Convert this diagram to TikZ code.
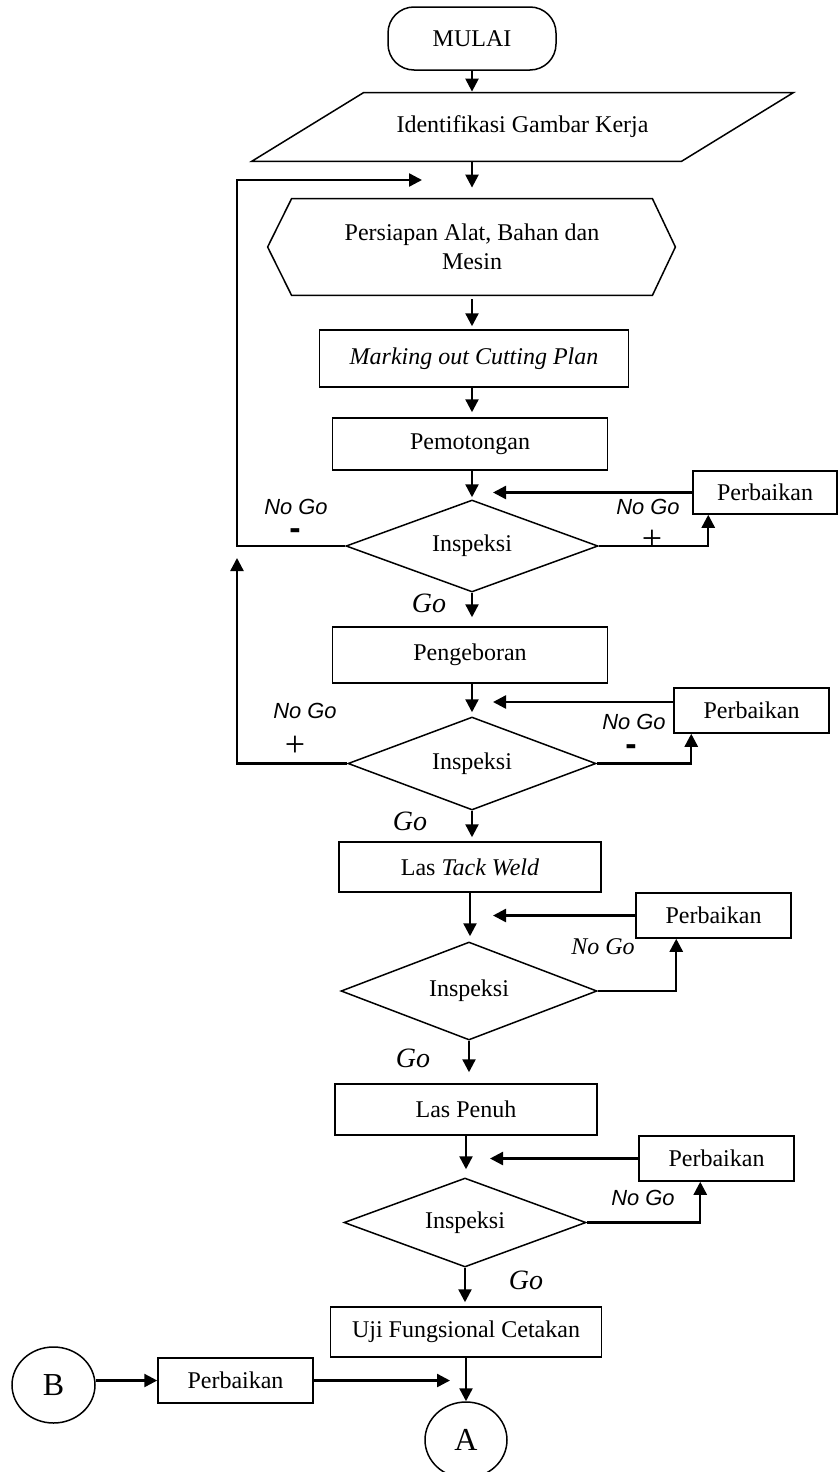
\documentclass[tikz,border=0pt,12pt]{standalone}
\usepackage{fontspec}
\setmainfont{Liberation Serif}
\newfontfamily\nogofont{Liberation Sans}
\usetikzlibrary{shapes.geometric,arrows.meta}

\begin{document}
\begin{tikzpicture}[x=0.5pt,y=-0.5pt,
  box/.style={draw,line width=0.75pt,inner sep=0pt},
  cond/.style={draw,diamond,aspect=2.5,line width=0.75pt,inner sep=0pt},
  flow/.style={line width=1.2pt,-{Triangle[length=6.5pt,width=6.5pt]}},
  nogo/.style={font=\nogofont\itshape\small,inner sep=0pt},
  sign/.style={font=\nogofont\bfseries\fontsize{17}{17}\selectfont,inner sep=0pt},
  go/.style={font=\itshape\fontsize{14}{16}\selectfont}]
\useasboundingbox (0,0) rectangle (838,1472);

\node[box,rounded corners=13pt,minimum width=84pt,minimum height=31.5pt] (mulai) at (472,38.5) {MULAI};
\node[inner sep=0pt,minimum width=214.5pt,minimum height=34pt] (ident) at (522.5,127) {Identifikasi Gambar Kerja};
\draw[line width=0.75pt] ([xshift=-28pt]ident.south west) -- ([xshift=28pt]ident.north west) -- ([xshift=28pt]ident.north east) -- ([xshift=-28pt]ident.south east) -- cycle;
\node[inner sep=0pt,minimum width=180pt,minimum height=48pt,align=center] (siap) at (472,247) {Persiapan Alat, Bahan dan\\Mesin};
\draw[line width=0.75pt] (siap.north west) -- (siap.north east) -- ([xshift=11.5pt]siap.east) -- (siap.south east) -- (siap.south west) -- ([xshift=-12pt]siap.west) -- cycle;
\node[box,minimum width=154.5pt,minimum height=28.5pt] (marking) at (474,358.5) {\textit{Marking out Cutting Plan}};
\node[box,minimum width=137.5pt,minimum height=26pt] (potong) at (470,444) {Pemotongan};
\node[cond,minimum width=126pt,minimum height=46pt] (cekA) at (472,546) {Inspeksi};
\node[box,minimum width=72pt,minimum height=21.5pt] (perbA) at (765,492.5) {Perbaikan};
\node[box,minimum width=137.5pt,minimum height=28pt] (bor) at (470,655) {Pengeboran};
\node[cond,minimum width=124pt,minimum height=46.5pt] (cekB) at (472,763.5) {Inspeksi};
\node[box,minimum width=77.5pt,minimum height=22.5pt] (perbB) at (751.5,710.5) {Perbaikan};
\node[box,minimum width=131pt,minimum height=25pt] (tack) at (470,867) {Las \textit{Tack Weld}};
\node[cond,minimum width=128pt,minimum height=49pt] (cekC) at (469,991) {Inspeksi};
\node[box,minimum width=77.5pt,minimum height=22.5pt] (perbC) at (713.5,915.5) {Perbaikan};
\node[box,minimum width=131pt,minimum height=25.5pt] (penuh) at (466,1109.5) {Las Penuh};
\node[cond,minimum width=121pt,minimum height=44.5pt] (cekD) at (465,1222.5) {Inspeksi};
\node[box,minimum width=77.5pt,minimum height=22.5pt] (perbD) at (716.5,1158.5) {Perbaikan};
\node[box,minimum width=135.5pt,minimum height=25pt] (uji) at (466,1332) {Uji Fungsional Cetakan};
\node[box,ellipse,minimum width=41pt,minimum height=38pt,font=\fontsize{16}{18}\selectfont] (A) at (466,1440) {A};
\node[box,ellipse,minimum width=41.5pt,minimum height=38pt,font=\fontsize{16}{18}\selectfont] (B) at (53.5,1385) {B};
\node[box,minimum width=77.5pt,minimum height=22.5pt] (perbE) at (235.5,1380.5) {Perbaikan};

\coordinate (fb) at (422,180);
\coordinate (loop) at (237,180);
\coordinate (tipL) at (237,558);
\coordinate (rA) at (493,492.5);
\coordinate (rB) at (493,702);
\coordinate (rC) at (493,915.5);
\coordinate (rD) at (490,1158.5);
\coordinate (inA) at (450,1380.5);

\draw[flow,shorten >=0.5pt] (mulai.south) -- (mulai.south |- ident.north);
\draw[flow,shorten >=5.5pt] (mulai.south |- ident.south) -- (siap.north);
\draw[flow,shorten <=2pt,shorten >=1.5pt] (siap.south) -- (siap.south |- marking.north);
\draw[flow,shorten >=2.5pt] (siap.south |- marking.south) -- (siap.south |- potong.north);
\draw[flow,shorten >=1pt] (cekA.north |- potong.south) -- (cekA.north);
\draw[flow,shorten >=4.5pt] (cekA.south) -- (cekA.south |- bor.north);
\draw[flow,shorten >=2pt] (cekB.north |- bor.south) -- (cekB.north);
\draw[flow,shorten >=2pt] (cekB.south) -- (cekB.south |- tack.north);
\draw[flow,shorten >=2.5pt] (tack.south) -- (tack.south |- cekC.north);
\draw[flow,shorten >=5.5pt] (cekC.south) -- (cekC.south |- penuh.north);
\draw[flow,shorten >=4pt] (penuh.south) -- (penuh.south |- cekD.north);
\draw[flow,shorten >=2pt] (cekD.south) -- (cekD.south |- uji.north);
\draw[flow] (uji.south) -- (uji.south |- A.north);

\draw[flow] (cekA.west) -| (loop) -- (fb);
\draw[flow] (cekB.west) -| (tipL);
\draw[flow] (cekA.east) -| ([xshift=8pt]perbA.south west);
\draw[flow] (cekB.east) -| ([xshift=9pt]perbB.south west);
\draw[flow] (cekC.east) -| ([xshift=20.5pt]perbC.south west);
\draw[flow] (cekD.east) -| ([xshift=31pt]perbD.south west);
\draw[flow] (perbA.west) -- (rA);
\draw[flow] ([yshift=4.25pt]perbB.west) -- (rB);
\draw[flow] (perbC.west) -- (rC);
\draw[flow] (perbD.west) -- (rD);
\draw[flow] (B.east |- perbE) -- (perbE.west);
\draw[flow] (perbE.east) -- (inA);

\node[nogo] (ngA) at (296,507) {No Go};
\node[sign] (minA) at (295,534) {-};
\node[nogo] (ngB) at (648,507) {No Go};
\node[font=\fontsize{18}{18}\selectfont] (plusA) at (652,540) {+};
\node[nogo] (ngC) at (305,711) {No Go};
\node[font=\fontsize{18}{18}\selectfont] (plusB) at (295,746) {+};
\node[nogo] (ngD) at (634,722) {No Go};
\node[sign] (minB) at (631,750) {-};
\node[font=\itshape] (ngE) at (603,947) {No Go};
\node[nogo] (ngF) at (643,1198) {No Go};
\node[go] (goA) at (429,603) {Go};
\node[go] (goB) at (410,821) {Go};
\node[go] (goC) at (413,1058) {Go};
\node[go] (goD) at (526,1280) {Go};
\end{tikzpicture}
\end{document}
